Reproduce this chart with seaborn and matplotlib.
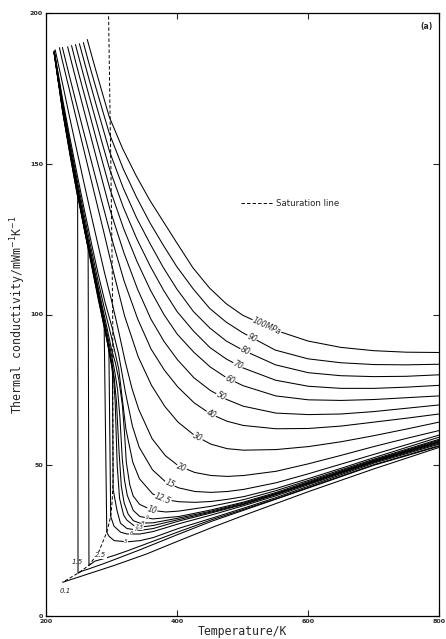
import numpy as np
import pandas as pd
import matplotlib
matplotlib.use("Agg")
import matplotlib.pyplot as plt
import seaborn as sns

# Thermal conductivity of CO2 along isobars: temperature / K, conductivity / mW m^-1 K^-1
t_100 = [263, 275.4, 286, 296.5, 317, 337.7, 358.2, 378.6, 399, 424.3, 449.6, 475, 500, 550, 600, 650, 700, 750, 800]
k_100 = [191.2, 181.5, 173.5, 165.6, 155, 146, 138, 131, 124, 115.5, 108.8, 103.6, 99.8, 94.8, 91.2, 89.1, 88, 87.5, 87.4]

t_90 = [257, 265.2, 275.7, 286.3, 296.8, 317.5, 338, 358.5, 379, 399.3, 424.7, 450, 475, 500, 550, 600, 650, 700, 750, 800]
k_90 = [190.2, 183.6, 175.6, 167.7, 160, 148.5, 139, 130.5, 123, 116, 108.5, 102, 97.5, 94, 88.2, 85.3, 84, 83.4, 83.3, 83.5]

t_80 = [251, 255, 265.5, 276, 286.6, 297.1, 317.8, 338.4, 358.9, 379.3, 399.6, 425, 450.2, 475.3, 500.4, 550.5, 600.4, 650, 700, 750, 800]
k_80 = [189.8, 186.6, 178.2, 170, 162, 154, 142, 132, 123.5, 115.5, 108.5, 101, 95.5, 91.2, 88.2, 83.3, 80.7, 79.7, 79.4, 79.5, 80]

t_70 = [245, 255.3, 265.8, 276.4, 286.9, 297.4, 318.2, 338.8, 359.2, 379.6, 400, 425.2, 450.5, 475.6, 500.6, 550.6, 600.5, 650.4, 700.3, 750, 800]
k_70 = [189.5, 181, 172.5, 164.2, 156, 148, 135.5, 125, 116, 108, 101, 94.5, 89, 85.2, 82.3, 78.2, 76.2, 75.5, 75.5, 75.9, 76.5]

t_60 = [239, 245, 255.6, 266.2, 276.7, 287.3, 297.8, 318.5, 339.1, 359.6, 380, 400.3, 425.6, 450.7, 475.8, 500.8, 550.8, 600.6, 650.5, 700.3, 750.1, 800]
k_60 = [189.2, 184, 175.3, 166.8, 158.2, 149.8, 141.5, 128.5, 117.5, 108, 100, 93.5, 87.5, 82.6, 79, 76.4, 73, 71.7, 71.5, 71.8, 72.4, 73]

t_50 = [233, 245.3, 255.9, 266.5, 277.1, 287.6, 298.1, 318.9, 339.6, 360.1, 380.4, 400.7, 425.9, 451, 476, 501, 550.9, 600.7, 650.5, 700.4, 750.2, 800]
k_50 = [188.8, 178.3, 169.4, 160.6, 151.8, 143.1, 134.5, 120.5, 108.5, 98.5, 91, 85, 79, 74.8, 71.8, 69.6, 67.3, 66.8, 67, 67.8, 68.9, 70]

t_40 = [225, 235.2, 245.8, 256.4, 267, 277.5, 288, 298.6, 319.4, 340, 360.5, 380.9, 401.1, 426.2, 451.3, 476.3, 501.2, 551, 600.8, 650.6, 700.4, 750.2, 800]
k_40 = [188.6, 179.6, 170.5, 161.5, 152.7, 143.9, 135.2, 126.5, 111, 98.5, 88.5, 81.5, 76, 70.7, 67, 64.6, 63.2, 62.1, 62.2, 63, 64.3, 65.6, 67]

t_30 = [220.5, 224.8, 235.5, 246.1, 256.7, 267.4, 277.9, 288.5, 299, 320, 340.7, 361.1, 381.4, 401.6, 426.7, 451.7, 476.6, 501.5, 551.2, 601, 650.7, 700.4, 750.2, 800]
k_30 = [188.5, 184.3, 174.7, 165.1, 155.6, 146, 136.6, 127.1, 117.5, 99.5, 86, 76.5, 69.5, 64.3, 59.9, 57, 55.5, 55, 55.2, 56.2, 57.8, 59.8, 62, 64.3]

t_20 = [214, 225.3, 236, 246.7, 257.4, 268, 278.7, 289.2, 299.7, 310.3, 320.8, 331.2, 341.6, 362, 382.2, 402.2, 427.2, 452, 476.9, 501.8, 551.4, 601, 650.8, 700.5, 750.2, 800]
k_20 = [187.8, 176.5, 165.5, 154.8, 144.2, 133.9, 123.8, 114, 105, 95, 84.5, 75.5, 68.5, 58.8, 53.2, 49.8, 47.6, 46.6, 46.3, 46.6, 48, 50.5, 53.3, 56.2, 58.9, 61.5]

# liquid-side temperatures shared by the isobars below 20 MPa
t_liq = [212.5, 225.7, 236.6, 247.5, 258.3, 269, 279.6, 290.2, 300.5]

t_15 = t_liq + [310.7, 321.4, 331.9, 342.2, 362.5, 382.5, 402.5, 427.4, 452.2, 477.1, 501.9, 551.5, 601.1, 650.8, 700.5, 750.2, 800]
k_15 = [187.5, 171, 158.5, 146.5, 135, 124, 113.5, 104, 96,
        87, 74, 63, 56, 48.5, 44.5, 42.5, 41.3, 41, 41.3, 42, 44.2, 47.2, 50.4, 53.6, 56.8, 60]

t_12p5 = t_liq + [311, 316.5, 322, 332.5, 342.7, 362.8, 382.8, 402.7, 427.5, 452.4, 477.2, 502, 551.6, 601.2, 650.8, 700.5, 750.2, 800]
k_12p5 = [187.3, 170, 157, 144.7, 133, 121.8, 111, 101, 92,
          82, 72, 62, 51, 45.5, 40.5, 38.6, 37.9, 37.7, 38, 38.7, 39.6, 42.3, 45.6, 49, 52.5, 55.9, 59.3]

t_10 = t_liq + [305.9, 311.1, 316.6, 320.1, 322.6, 327.9, 333.1, 343.1, 363.1, 383, 402.8, 452.4, 502, 551.6, 601.2, 650.8, 700.5, 750.2, 800]
k_10 = [187.1, 169, 155.7, 143.2, 131.3, 120, 109, 98.5, 88,
        84, 78.5, 70, 60, 51, 43.5, 39.8, 37, 35, 34.5, 34.8, 36.4, 38.6, 41.6, 45, 48.5, 52, 55.3, 58.6]

t_9 = t_liq + [305, 309.3, 312.8, 316.5, 319.9, 324.1, 333.3, 343.3, 363.2, 402.9, 452.4, 502, 551.6, 601.2, 700.5, 800]
k_9 = [187, 168.6, 155.2, 142.6, 130.6, 119.2, 108, 97, 86,
       81, 75, 66, 52, 45, 40, 35, 33, 32.2, 33, 35.2, 37.8, 41, 44.6, 51.7, 58.3]

t_8 = t_liq + [304.1, 307.6, 311.4, 315, 319.3, 325.4, 333.4, 343.4, 363.3, 402.9, 452.5, 502, 551.6, 601.2, 700.5, 800]
k_8 = [187, 168.3, 154.8, 142.1, 130, 118.5, 107.2, 96, 84,
       79, 71, 55, 43, 37.5, 33.8, 31.6, 30.8, 30.9, 32.5, 34.8, 37.5, 40.7, 44.3, 51.5, 58]

t_7p5 = t_liq + [303.1, 305.6, 308.7, 312.3, 318.5, 323.5, 333.5, 343.5, 363.3, 402.9, 452.5, 502, 551.6, 601.2, 700.5, 800]
k_7p5 = [186.9, 168.1, 154.6, 141.8, 129.7, 118.1, 106.8, 95.5, 83,
         79.5, 71, 50, 39, 33.5, 31.8, 30.1, 29.5, 30, 32, 34.5, 37.2, 40.5, 44.1, 51.3, 57.8]

t_7 = t_liq + [301.5, 302.5, 308.4, 313.6, 323.7, 343.5, 363.4, 403, 452.5, 502, 551.6, 601.2, 700.5, 800]
k_7 = [186.9, 168, 154.4, 141.6, 129.4, 117.8, 106.4, 95, 82.5,
       80.5, 42, 35, 30.8, 29, 28.4, 29, 31.5, 34.2, 37, 40.3, 43.9, 51.2, 57.6]

t_6 = t_liq[:8] + [296, 298.8, 303.8, 313.8, 323.8, 343.6, 363.4, 403, 452.5, 502, 551.6, 601.2, 700.5, 800]
k_6 = [186.8, 167.7, 154.1, 141.2, 129, 117.3, 105.8, 94.3,
       88.5, 33, 29.8, 27.8, 27.2, 27.2, 28, 30.6, 33.5, 36.6, 39.9, 43.6, 51, 57.3]

t_5 = t_liq[:7] + [288.8, 292.8, 296, 304, 324, 343.7, 363.5, 403.1, 452.6, 502.1, 551.6, 601.2, 700.5, 800]
k_5 = [186.7, 167.4, 153.8, 140.9, 128.6, 116.8, 105.2,
       96, 27.8, 26.5, 25, 24.6, 25, 26, 29.1, 32.4, 35.8, 39.3, 43.1, 50.7, 57]

t_2p5 = t_liq[:5] + [264.3, 265.6, 274.7, 284.6, 304.3, 324.1, 343.8, 363.6, 403.1, 452.6, 502.1, 551.7, 601.2, 700.5, 800]
k_2p5 = [186.6, 167, 153.3, 140.2, 128.5,
         122, 16.8, 18.2, 18.8, 20.1, 21.6, 23.2, 24.8, 28, 31.9, 35.4, 38.9, 42.7, 50.2, 56.5]

t_1p5 = t_liq[:4] + [248.3, 248.9, 255, 265, 284.7, 304.4, 343.9, 403.2, 452.6, 502.1, 601.2, 700.5, 800]
k_1p5 = [186.5, 166.8, 153, 140,
         139.2, 14.2, 14.9, 15.6, 17.1, 18.7, 22, 27.2, 31.4, 35.1, 42.5, 50, 56.3]

t_0p1 = [225.5, 255.2, 304.5, 353.9, 403.3, 452.7, 502.2, 601.3, 700.6, 800]
k_0p1 = [11.2, 13.3, 16.8, 20.6, 25, 29.3, 33.4, 41.3, 48.8, 55.9]

# saturation boundary: liquid branch down to the critical region, then vapour branch
sat_liq_t = [212, 225.7, 236.6, 247.5, 258.3, 269, 279.6, 290.2, 296, 300.5, 301.8]
sat_liq_k = [187.3, 167, 153.3, 140.3, 128.6, 117.2, 106, 95, 88.5, 83.5, 82]
sat_vap_t = [301.8, 302.2, 302.4, 301, 298.8, 292.8, 280, 265.6, 248.9, 225.5]
sat_vap_k = [82, 60, 45, 38, 33, 27.8, 21, 16.8, 14.2, 11.2]
sat_crit_t = [301.8, 302, 300.8, 299, 297.2, 295.5]
sat_crit_k = [82, 95, 120, 150, 175, 200]

pressures = [100, 90, 80, 70, 60, 50, 40, 30, 20, 15, 12.5, 10, 9, 8, 7.5, 7, 6, 5, 2.5, 1.5, 0.1]
temps = [t_100, t_90, t_80, t_70, t_60, t_50, t_40, t_30, t_20, t_15, t_12p5, t_10, t_9, t_8,
         t_7p5, t_7, t_6, t_5, t_2p5, t_1p5, t_0p1]
conds = [k_100, k_90, k_80, k_70, k_60, k_50, k_40, k_30, k_20, k_15, k_12p5, k_10, k_9, k_8,
         k_7p5, k_7, k_6, k_5, k_2p5, k_1p5, k_0p1]

# curve labels: text, pressure of the isobar, temperature where the label sits
label_text = ["100MPa", "90", "80", "70", "60", "50", "40", "30", "20", "15", "12.5", "10",
              "9", "8", "7.5", "7", "6", "5"]
label_p = [100, 90, 80, 70, 60, 50, 40, 30, 20, 15, 12.5, 10, 9, 8, 7.5, 7, 6, 5]
label_temp = [537, 514.5, 504, 493, 481, 467, 452, 432, 407.5, 389, 378.5, 362,
              354, 348, 342, 336, 330, 322]

df = pd.concat(
    [pd.DataFrame({"T": t, "k": k, "P": p}) for p, t, k in zip(pressures, temps, conds)],
    ignore_index=True,
)
sat = pd.concat([
    pd.DataFrame({"T": sat_liq_t, "k": sat_liq_k, "branch": "liquid"}),
    pd.DataFrame({"T": sat_vap_t, "k": sat_vap_k, "branch": "vapour"}),
    pd.DataFrame({"T": sat_crit_t, "k": sat_crit_k, "branch": "critical"}),
], ignore_index=True)

sns.set_style("ticks")
plt.rcParams["font.family"] = ["DejaVu Sans"]

W, H = 446, 639
fig = plt.figure(figsize=(W / 100, H / 100), dpi=100)
ax = fig.add_axes([46 / W, 23 / H, 393 / W, 603 / H])

sns.lineplot(data=df, x="T", y="k", units="P", estimator=None, sort=False,
             color="black", lw=0.75, legend=False, ax=ax)
dash = (0, (3.5, 2.2))
sns.lineplot(data=sat, x="T", y="k", units="branch", estimator=None, sort=False,
             color="black", lw=0.7, linestyle=dash, legend=False, ax=ax)
ax.plot([], [], color="black", lw=0.7, linestyle=dash, label="Saturation line")

ax.set_xlim(200, 800)
ax.set_ylim(0, 200)
ax.set_xticks([200, 400, 600, 800])
ax.set_yticks([0, 50, 100, 150, 200])
ax.tick_params(direction="in", length=4, width=0.8, labelsize=4.6, pad=2,
               top=True, right=True)
for lab in ax.get_xticklabels() + ax.get_yticklabels():
    lab.set_fontweight("bold")
for s in ax.spines.values():
    s.set_linewidth(0.9)
    s.set_color("black")

ax.set_xlabel("Temperature/K", family="DejaVu Sans Mono", fontsize=8.3, labelpad=1)
ax.set_ylabel("Thermal conductivity/mWm$^{-1}$K$^{-1}$", family="DejaVu Sans Mono",
              fontsize=8.3, labelpad=1.5)

ax.legend(loc="upper left", bbox_to_anchor=(0.484, 0.698), frameon=False,
          fontsize=6.2, handlelength=3.8, handletextpad=0.3, borderpad=0)

ax.text(0.985, 0.985, "(a)", transform=ax.transAxes, ha="right", va="top",
        fontsize=5.5, fontweight="bold")

fig.canvas.draw()


def put_label(text, t_lab, t, k, size):
    t = np.asarray(t, float)
    k = np.asarray(k, float)
    m = t >= 300
    tt, kk = t[m], k[m]
    y = np.interp(t_lab, tt, kk)
    p1 = ax.transData.transform((t_lab - 6, np.interp(t_lab - 6, tt, kk)))
    p2 = ax.transData.transform((t_lab + 6, np.interp(t_lab + 6, tt, kk)))
    ang = np.degrees(np.arctan2(p2[1] - p1[1], p2[0] - p1[0]))
    ax.text(t_lab, y, text, rotation=ang, rotation_mode="anchor", ha="center", va="center",
            fontsize=size, fontstyle="italic",
            bbox=dict(fc="white", ec="none", pad=0.3), zorder=5)


for txt, p, tl in zip(label_text, label_p, label_temp):
    i = pressures.index(p)
    put_label(txt, tl, temps[i], conds[i], 5.5 if p >= 10 else 4.0)

# low-pressure labels near the bottom-left corner
put_label("2.5", 284, t_2p5, k_2p5, 5)
ax.text(247, 18.0, "1.5", fontsize=5, ha="center", va="center", fontstyle="italic")
ax.text(229, 8.3, "0.1", fontsize=5, ha="center", va="center", fontstyle="italic")

fig.savefig("out.png", dpi=100)
